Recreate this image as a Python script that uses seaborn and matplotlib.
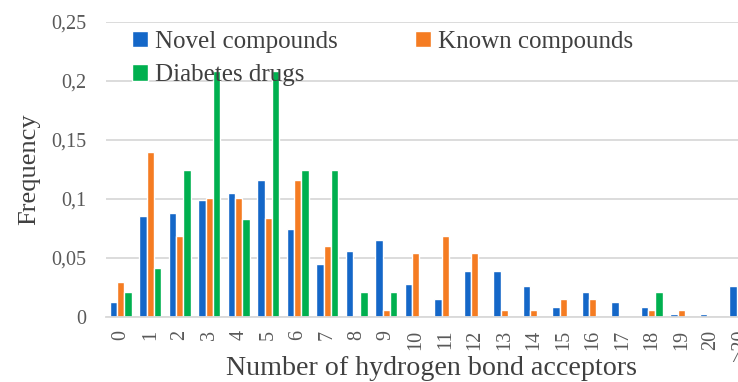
import matplotlib
matplotlib.use("Agg")
import matplotlib.pyplot as plt
import seaborn as sns
import pandas as pd
from matplotlib.ticker import FuncFormatter

categories = [str(i) for i in range(21)] + [">20"]
novel = [0.013, 0.086, 0.088, 0.099, 0.105, 0.116, 0.075, 0.045, 0.056, 0.065,
         0.028, 0.015, 0.039, 0.039, 0.026, 0.0085, 0.021, 0.013, 0.0085, 0.0023,
         0.0023, 0.026]
known = [0.030, 0.140, 0.069, 0.101, 0.101, 0.084, 0.116, 0.060, 0.0, 0.006,
         0.054, 0.069, 0.054, 0.006, 0.006, 0.015, 0.015, 0.0, 0.006, 0.006,
         0.0, 0.0]
diabetes = [0.0208, 0.0417, 0.125, 0.2083, 0.0833, 0.2083, 0.125, 0.125, 0.0208, 0.0208,
            0.0, 0.0, 0.0, 0.0, 0.0, 0.0, 0.0, 0.0, 0.0208, 0.0,
            0.0, 0.0]
series_names = ["Novel compounds", "Known compounds", "Diabetes drugs"]
colors = ["#1467C8", "#F57C22", "#00B04F"]

df = pd.DataFrame({
    "cat": categories * 3,
    "val": novel + known + diabetes,
    "series": [series_names[0]] * len(categories) + [series_names[1]] * len(categories)
              + [series_names[2]] * len(categories),
})

sns.set_theme(style="white")
plt.rcParams["font.family"] = ["Liberation Serif", "DejaVu Serif"]

fig = plt.figure(figsize=(7.38, 3.82), dpi=100)
ax = fig.add_axes([106 / 738, 65 / 382, 649 / 738, 295 / 382])

sns.barplot(data=df, x="cat", y="val", hue="series", order=categories,
            hue_order=series_names, palette=colors, width=0.75, saturation=1,
            gap=0, ax=ax, legend=True, errorbar=None)

ax.set_xlim(-0.5, len(categories) - 0.5)
ax.set_ylim(0, 0.25)
ax.set_yticks([0, 0.05, 0.1, 0.15, 0.2, 0.25])
ax.yaxis.set_major_formatter(FuncFormatter(lambda v, p: ("%g" % round(v, 2)).replace(".", ",")))
ax.grid(axis="y", color="#d9d9d9", linewidth=1.3)
ax.set_axisbelow(True)
for s in ["top", "right", "left"]:
    ax.spines[s].set_visible(False)
ax.spines["bottom"].set_color("#d9d9d9")
ax.spines["bottom"].set_linewidth(1.3)
ax.tick_params(axis="both", length=0, colors="#595959", labelsize=14.5)
ax.tick_params(axis="y", pad=14)
ax.tick_params(axis="x", pad=9)
plt.setp(ax.get_xticklabels(), rotation=90)
ax.set_xlabel("Number of hydrogen bond acceptors", fontsize=20.2, color="#404040")
ax.xaxis.set_label_coords((431 - 106) / 649, -(356 - 317) / 295)
ax.set_ylabel("Frequency", fontsize=19, color="#404040", labelpad=8)

handles, labels = ax.get_legend_handles_labels()
order = [0, 2, 1]
ax.legend([handles[i] for i in order], [labels[i] for i in order], ncol=2,
          loc="upper left", bbox_to_anchor=(132 / 738, 1 - 31 / 382),
          bbox_transform=fig.transFigure, frameon=False, fontsize=18,
          handlelength=0.62, handleheight=0.62, handletextpad=0.3,
          columnspacing=3.1, labelspacing=0.45, borderpad=0, borderaxespad=0,
          labelcolor="#404040")

fig.savefig("out.png", dpi=100)
